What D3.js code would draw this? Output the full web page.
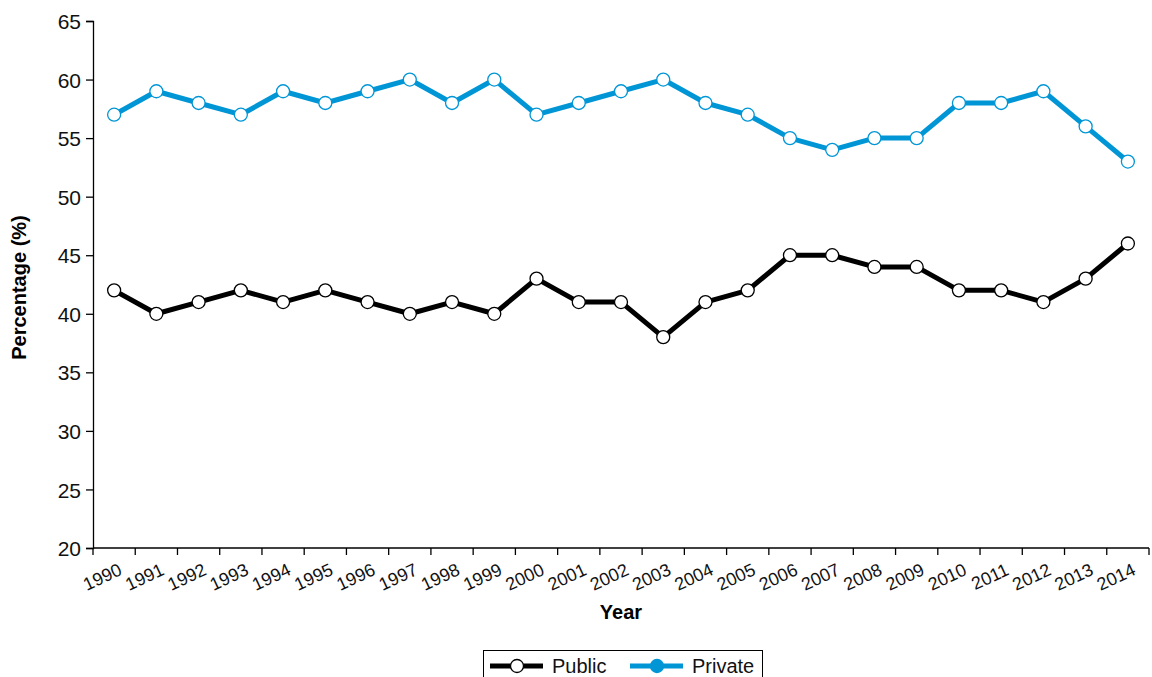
<!DOCTYPE html>
<html>
<head>
<meta charset="utf-8">
<script src="https://cdn.jsdelivr.net/npm/d3@7"></script>
<style>
  body { margin: 0; background: #fff; }
  svg { display: block; font-family: "Liberation Sans", Arial, sans-serif; }
</style>
</head>
<body>
<div id="chart"></div>
<script>
// Data
const years = ["1990","1991","1992","1993","1994","1995","1996","1997","1998","1999","2000","2001","2002",
               "2003","2004","2005","2006","2007","2008","2009","2010","2011","2012","2013","2014"];
const publicValues  = [42,40,41,42,41,42,41,40,41,40,43,41,41,38,41,42,45,45,44,44,42,42,41,43,46];
const privateValues = [57,59,58,57,59,58,59,60,58,60,57,58,59,60,58,57,55,54,55,55,58,58,59,56,53];
const yTicks = [20,25,30,35,40,45,50,55,60,65];

const W = 1152, H = 677;
const margin = { top: 21, right: 3, bottom: 129, left: 93 };
const width = W - margin.left - margin.right;
const height = H - margin.top - margin.bottom;

const series = [
    { name: "Public", values: publicValues, color: "#000000" },
    { name: "Private", values: privateValues, color: "#0096d6" }
];

const svg = d3.select("#chart")
    .append("svg")
    .attr("width", W)
    .attr("height", H);

const g = svg.append("g")
    .attr("transform", `translate(${margin.left},${margin.top})`);

// Scales
const x = d3.scaleBand()
    .domain(years)
    .range([0, width]);

const y = d3.scaleLinear()
    .domain([20, 65])
    .range([height, 0]);

// Y axis
const yAxis = g.append("g")
    .call(d3.axisLeft(y).tickValues(yTicks).tickSize(7).tickPadding(5));
yAxis.select(".domain").attr("stroke", "#000").attr("stroke-width", 1.3);
yAxis.selectAll(".tick line").attr("stroke", "#000").attr("stroke-width", 1.3);
yAxis.selectAll("text")
    .style("font-size", "21px")
    .attr("fill", "#111")
    .attr("dy", "0.36em");

// X axis: ticks on band boundaries
const xAxis = g.append("g")
    .attr("transform", `translate(0,${height})`);
xAxis.append("line")
    .attr("x1", 0).attr("x2", width)
    .attr("stroke", "#000").attr("stroke-width", 1.3);
const bounds = years.map(d => x(d)).concat([x(years[years.length - 1]) + x.bandwidth()]);
xAxis.selectAll(".xt")
    .data(bounds)
    .enter()
    .append("line")
    .attr("x1", d => d).attr("x2", d => d)
    .attr("y1", 0).attr("y2", 7)
    .attr("stroke", "#000").attr("stroke-width", 1.3);
xAxis.selectAll(".xl")
    .data(years)
    .enter()
    .append("text")
    .attr("transform", d => `translate(${x(d) + x.bandwidth() / 2 + 9},${26}) rotate(-25)`)
    .attr("text-anchor", "end")
    .style("font-size", "18px")
    .attr("fill", "#111")
    .text(d => d);

// Axis titles
svg.append("text")
    .attr("x", 621)
    .attr("y", 619)
    .attr("text-anchor", "middle")
    .style("font-size", "20px")
    .style("font-weight", "bold")
    .text("Year");

svg.append("text")
    .attr("transform", `translate(26,${margin.top + height / 2 + 3}) rotate(-90)`)
    .attr("text-anchor", "middle")
    .style("font-size", "20px")
    .style("font-weight", "bold")
    .text("Percentage (%)");

// Lines and points
const line = d3.line()
    .x((d, i) => x(years[i]) + x.bandwidth() / 2)
    .y(d => y(d));

series.forEach(s => {
    g.append("path")
        .datum(s.values)
        .attr("fill", "none")
        .attr("stroke", s.color)
        .attr("stroke-width", 5)
        .attr("stroke-linejoin", "round")
        .attr("d", line);

    g.selectAll(".pt-" + s.name)
        .data(s.values)
        .enter()
        .append("circle")
        .attr("cx", (d, i) => x(years[i]) + x.bandwidth() / 2)
        .attr("cy", d => y(d))
        .attr("r", 6.5)
        .attr("fill", "#fff")
        .attr("stroke", s.color)
        .attr("stroke-width", 1.3);
});

// Legend
const legend = svg.append("g");
legend.append("rect")
    .attr("x", 483.5).attr("y", 650.5)
    .attr("width", 279).attr("height", 32)
    .attr("fill", "#fff")
    .attr("stroke", "#000")
    .attr("stroke-width", 1);

const legendItems = [
    { name: "Public", color: "#000000", x: 490, filled: false },
    { name: "Private", color: "#0096d6", x: 630, filled: true }
];
legendItems.forEach(it => {
    legend.append("line")
        .attr("x1", it.x).attr("x2", it.x + 53)
        .attr("y1", 666).attr("y2", 666)
        .attr("stroke", it.color)
        .attr("stroke-width", 5);
    legend.append("circle")
        .attr("cx", it.x + 27).attr("cy", 666)
        .attr("r", 6.5)
        .attr("fill", it.filled ? it.color : "#fff")
        .attr("stroke", it.color)
        .attr("stroke-width", 1.3);
    legend.append("text")
        .attr("x", it.x + 62)
        .attr("y", 673)
        .style("font-size", "20px")
        .attr("fill", "#111")
        .text(it.name);
});
</script>
</body>
</html>
